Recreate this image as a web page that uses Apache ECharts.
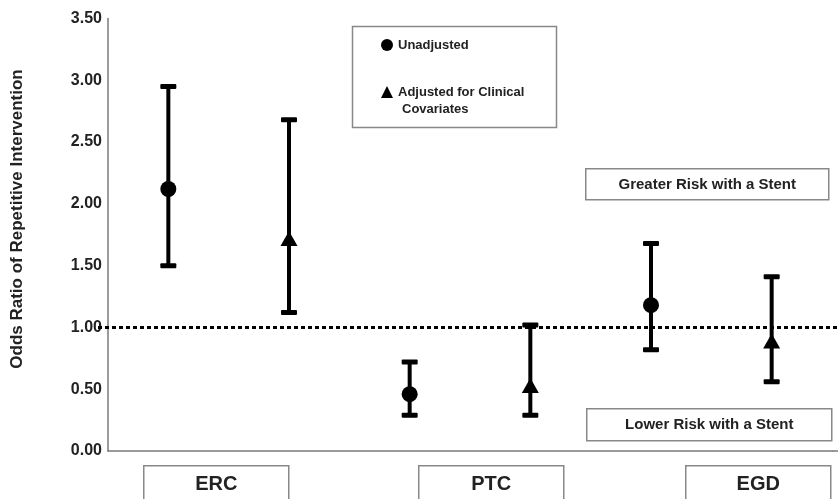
<!DOCTYPE html>
<html>
<head>
<meta charset="utf-8">
<script src="https://cdn.jsdelivr.net/npm/echarts@6/dist/echarts.min.js"></script>
<style>
  html, body { margin: 0; padding: 0; background: #fff; }
  #chart { width: 838px; height: 499px; }
</style>
</head>
<body>
<div id="chart"></div>
<script>
// Procedure groups and odds ratios (point estimate, 95% CI)
const groups = ['ERC', 'PTC', 'EGD'];
const unadjOR = [2.12, 0.46, 1.18];
const unadjLow = [1.50, 0.29, 0.82];
const unadjHigh = [2.95, 0.72, 1.68];
const adjOR = [1.72, 0.53, 0.89];
const adjLow = [1.12, 0.29, 0.56];
const adjHigh = [2.68, 1.02, 1.41];
const yTicks = [0, 0.5, 1, 1.5, 2, 2.5, 3, 3.5];
const referenceOR = 1.0;

const nameUnadj = 'Unadjusted';
const nameAdj = 'Adjusted for Clinical Covariates';
const yTitle = 'Odds Ratio of Repetitive Intervention';
const FONT = '"Liberation Sans", Arial, sans-serif';

// Six slots on the x axis: unadjusted / adjusted for each group
const slots = [];
const unadjPts = [], adjPts = [], bars = [];
groups.forEach((g, i) => {
  slots.push(g + ' ' + nameUnadj, g + ' ' + nameAdj);
  unadjPts.push([2 * i, unadjOR[i]]);
  adjPts.push([2 * i + 1, adjOR[i]]);
  bars.push([2 * i, unadjLow[i], unadjHigh[i]]);
  bars.push([2 * i + 1, adjLow[i], adjHigh[i]]);
});

const chart = echarts.init(document.getElementById('chart'), null, { renderer: 'canvas' });

function errorBar(params, api) {
  const x = api.value(0);
  const lo = api.coord([x, api.value(1)]);
  const hi = api.coord([x, api.value(2)]);
  const capW = 16, capH = 5;
  const style = { fill: '#000', stroke: null };
  return {
    type: 'group',
    children: [
      { type: 'rect', shape: { x: lo[0] - 2, y: hi[1], width: 4, height: lo[1] - hi[1] }, style },
      { type: 'rect', shape: { x: hi[0] - capW / 2, y: hi[1] - capH / 2, width: capW, height: capH, r: 1 }, style },
      { type: 'rect', shape: { x: lo[0] - capW / 2, y: lo[1] - capH / 2, width: capW, height: capH, r: 1 }, style }
    ]
  };
}

// Dotted reference line at OR = 1 (running a little past both ends of the plot),
// plus the x axis line carried on to the right edge
function refLine(params, api) {
  const cs = params.coordSys;
  const y = api.coord([0, api.value(1)])[1];
  const right = cs.x + cs.width + 8;
  const base = cs.y + cs.height;
  return {
    type: 'group',
    children: [
      { type: 'line', shape: { x1: cs.x - 10, y1: y, x2: right, y2: y },
        style: { stroke: '#000', lineWidth: 3, lineDash: [4, 3] } },
      { type: 'line', shape: { x1: cs.x + cs.width, y1: base, x2: right, y2: base },
        style: { stroke: '#7a7a7a', lineWidth: 1.5 } }
    ]
  };
}

const option = {
  backgroundColor: '#fff',
  animation: false,
  grid: { left: 108, right: 6, top: 18.5, bottom: 48 },
  xAxis: {
    type: 'category',
    data: slots,
    boundaryGap: true,
    axisLine: { show: true, lineStyle: { color: '#7a7a7a', width: 1.5 } },
    axisTick: { show: false },
    axisLabel: { show: false },
    splitLine: { show: false }
  },
  yAxis: {
    type: 'value',
    min: yTicks[0],
    max: yTicks[yTicks.length - 1],
    interval: 0.5,
    axisLine: { show: true, lineStyle: { color: '#7a7a7a', width: 1.5 } },
    axisTick: { show: false },
    splitLine: { show: false },
    axisLabel: {
      margin: 6,
      fontFamily: FONT, fontWeight: 'bold', fontSize: 16, color: '#222',
      formatter: v => v.toFixed(2)
    }
  },
  legend: {
    orient: 'vertical',
    left: 381,
    top: 37,
    itemGap: 31,
    itemWidth: 12,
    itemHeight: 12,
    padding: 0,
    data: [
      { name: nameUnadj, icon: 'circle' },
      { name: nameAdj, icon: 'triangle' }
    ],
    formatter: n => n === nameAdj ? 'Adjusted for Clinical' : n,
    textStyle: { fontFamily: FONT, fontWeight: 'bold', fontSize: 13, color: '#222', lineHeight: 16 },
    selectedMode: false
  },
  graphic: [
    { type: 'text', rotation: Math.PI / 2, z: 10,
      x: 17, y: 219,
      style: { text: yTitle, align: 'center', verticalAlign: 'middle', font: 'bold 17px ' + FONT, fill: '#222' } },
    { type: 'rect', left: 350, top: 24, shape: { width: 204, height: 101 }, style: { fill: 'none', stroke: '#888', lineWidth: 1.5 }, z: 10 },
    { type: 'text', left: 402, top: 103, z: 10,
      style: { text: 'Covariates', font: 'bold 13px ' + FONT, fill: '#222' } },
    { type: 'group', left: 585, top: 168, z: 10, children: [
      { type: 'rect', shape: { width: 243, height: 31 }, style: { fill: '#fff', stroke: '#888', lineWidth: 1.5 } },
      { type: 'text', x: 121.5, y: 16, style: { text: 'Greater Risk with a Stent', align: 'center', verticalAlign: 'middle', font: 'bold 15px ' + FONT, fill: '#222' } }
    ]},
    { type: 'group', left: 586, top: 408, z: 10, children: [
      { type: 'rect', shape: { width: 245, height: 32 }, style: { fill: '#fff', stroke: '#888', lineWidth: 1.5 } },
      { type: 'text', x: 122.5, y: 16.5, style: { text: 'Lower Risk with a Stent', align: 'center', verticalAlign: 'middle', font: 'bold 15px ' + FONT, fill: '#222' } }
    ]},
    ...groups.map((g, i) => {
      const lefts = [143, 418, 685];
      return { type: 'group', left: lefts[i], top: 465, z: 10, children: [
        { type: 'rect', shape: { width: 145, height: 50 }, style: { fill: '#fff', stroke: '#888', lineWidth: 1.5 } },
        { type: 'text', x: 72.5, y: 19, style: { text: g, align: 'center', verticalAlign: 'middle', font: 'bold 20px ' + FONT, fill: '#222' } }
      ]};
    })
  ],
  series: [
    {
      type: 'custom',
      name: 'reference',
      renderItem: refLine,
      clip: false,
      data: [[0, referenceOR]],
      encode: { x: 0, y: 1 },
      z: 1,
      silent: true
    },
    {
      type: 'custom',
      name: 'CI',
      renderItem: errorBar,
      data: bars,
      encode: { x: 0, y: [1, 2] },
      z: 2
    },
    {
      type: 'scatter',
      name: nameUnadj,
      data: unadjPts,
      symbol: 'circle',
      symbolSize: 16,
      itemStyle: { color: '#000', opacity: 1 },
      z: 3
    },
    {
      type: 'scatter',
      name: nameAdj,
      data: adjPts,
      symbol: 'triangle',
      symbolSize: [17, 15],
      itemStyle: { color: '#000', opacity: 1 },
      z: 3
    }
  ]
};

chart.setOption(option);
</script>
</body>
</html>
